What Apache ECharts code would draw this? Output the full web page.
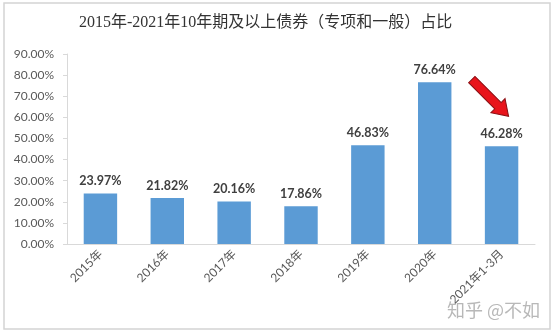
<!DOCTYPE html>
<html>
<head>
<meta charset="utf-8">
<script src="https://cdn.jsdelivr.net/npm/echarts@6/dist/echarts.min.js"></script>
<style>
  html, body { margin: 0; padding: 0; background: #fff; }
  #chart { width: 554px; height: 333px; }
</style>
</head>
<body>
<div id="chart"></div>
<script>
// Share of bonds with maturity of 10 years or more (special + general), 2015 – Q1 2021
const titleText = '2015年-2021年10年期及以上债券（专项和一般）占比';
const categories = ['2015年', '2016年', '2017年', '2018年', '2019年', '2020年', '2021年1-3月'];
const shares = [23.97, 21.82, 20.16, 17.86, 46.83, 76.64, 46.28];
const watermark = '知乎 @不如';

const latin = 'Lato, "Noto Sans CJK SC", sans-serif';
const chart = echarts.init(document.getElementById('chart'), null, { renderer: 'canvas' });

chart.setOption({
  animation: false,
  backgroundColor: '#ffffff',
  title: {
    text: titleText,
    left: 74,
    top: 10,
    textStyle: {
      fontFamily: '"Liberation Serif", "Noto Sans CJK SC", serif',
      fontSize: 16,
      fontWeight: 'normal',
      color: '#333333'
    }
  },
  grid: { left: 67, right: 19, top: 54, bottom: 89, containLabel: false },
  xAxis: {
    type: 'category',
    data: categories,
    axisLine: { lineStyle: { color: '#d9d9d9', width: 1 } },
    axisTick: { show: false },
    axisLabel: {
      rotate: 45,
      interval: 0,
      margin: 8,
      fontFamily: latin,
      fontSize: 12,
      color: '#595959'
    }
  },
  yAxis: {
    type: 'value',
    min: 0,
    max: 90,
    interval: 10,
    splitLine: { show: false },
    axisLine: { show: true, lineStyle: { color: '#d9d9d9', width: 1 } },
    axisTick: { show: true, length: 4, lineStyle: { color: '#d9d9d9' } },
    axisLabel: {
      margin: 13,
      fontFamily: latin,
      fontSize: 12,
      color: '#595959',
      formatter: v => v.toFixed(2) + '%'
    }
  },
  series: [{
    type: 'bar',
    data: shares,
    barWidth: '50%',
    itemStyle: { color: '#5b9bd5' },
    label: {
      show: true,
      position: 'top',
      distance: 6,
      fontFamily: latin,
      fontSize: 12.5,
      fontWeight: 'bold',
      color: '#404040',
      formatter: p => p.value.toFixed(2) + '%'
    }
  }]
});

// Frame, watermark and the red arrow pointing at the latest period
const lastIdx = categories.length - 1;
const tip = chart.convertToPixel({ seriesIndex: 0 }, [lastIdx, shares[lastIdx]]);
const tipX = tip[0] + 7;
const tipY = tip[1] - 30;
const arrowLen = 52;
chart.setOption({
  graphic: [
    {
      type: 'rect',
      shape: { x: 4, y: 3, width: 546, height: 326 },
      style: { fill: 'none', stroke: '#d4d4d4', lineWidth: 1.5 },
      silent: true,
      z: 100
    },
    {
      type: 'polygon',
      x: tipX,
      y: tipY,
      rotation: -Math.PI / 4,
      shape: {
        points: [
          [0, 0], [-15, -10], [-15, -4.5], [-arrowLen, -4.5],
          [-arrowLen, 4.5], [-15, 4.5], [-15, 10]
        ]
      },
      style: { fill: '#e8141b', stroke: '#8b1014', lineWidth: 1 },
      z: 100
    },
    {
      type: 'text',
      right: 14,
      top: 301,
      style: {
        text: watermark,
        fontFamily: '"Noto Sans CJK SC", sans-serif',
        fontSize: 18,
        fill: 'rgba(160,160,160,0.75)'
      },
      z: 100
    }
  ]
});
</script>
</body>
</html>
